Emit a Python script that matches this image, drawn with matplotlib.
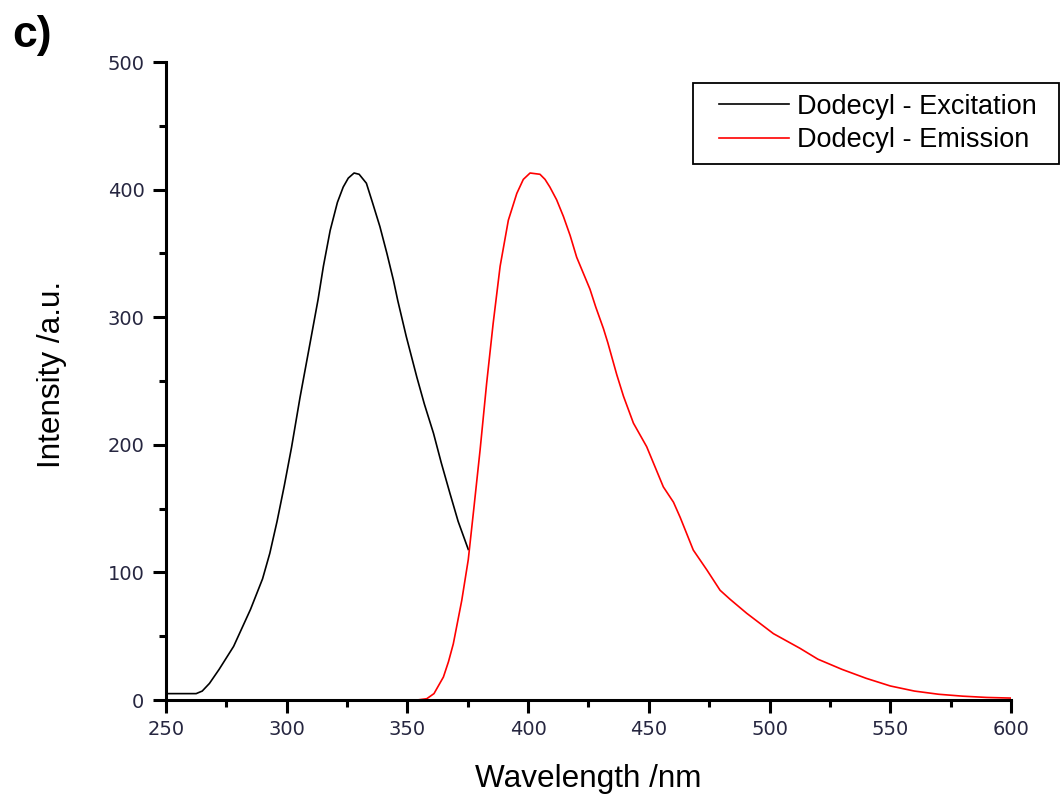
import matplotlib
matplotlib.use("Agg")
import matplotlib.pyplot as plt
from matplotlib.ticker import MultipleLocator
from matplotlib.legend_handler import HandlerLine2D

# excitation spectrum
exc_wl = [250, 262.5, 265, 268, 272, 278, 285, 290, 293, 296, 299, 302,
          305.5, 309.7, 313, 315.2, 318, 321, 323.4, 325.5, 327.9, 330, 333,
          335.5, 338.6, 341.5, 344.2, 346, 349.5, 353.9, 357, 360.8, 364,
          367.6, 371, 375.2]
exc_int = [5, 5, 7, 13, 24, 42, 71, 95, 115, 140, 168, 198,
           237, 280, 314, 340, 368, 390, 402, 409, 413, 412, 405,
           390, 371, 350, 329, 313, 285, 253, 232, 209, 186,
           162, 140, 118]

# emission spectrum
em_wl = [350, 354, 358, 361, 364.9, 367, 369, 372.5, 375.2, 377.5, 380.1,
         382.8, 385.5, 388.4, 391.8, 395.3, 398, 400.8, 404.9, 407, 409,
         411.8, 414.6, 417.4, 420.1, 425.6, 428, 431.2, 433, 436.7, 439.5,
         443.6, 449.1, 456, 460.2, 463, 468.4, 474, 479.5, 483.6, 490.5,
         501.6, 512.6, 520, 530, 540, 550, 560, 570, 580, 590, 600]
em_int = [0, 0, 1, 5, 18, 30, 44, 78, 110, 150, 196,
          248, 295, 340, 376, 397, 408, 413, 412, 408, 402,
          392, 379, 364, 347, 322, 308, 291, 280, 255, 238,
          217, 198.5, 167, 155, 143, 117.5, 102, 86, 79, 68,
          52, 40.5, 32, 24, 17, 11, 7, 4.5, 3, 2, 1.5]

x_ticks = [250, 300, 350, 400, 450, 500, 550, 600]
y_ticks = [0, 100, 200, 300, 400, 500]

fig = plt.figure(figsize=(10.6, 7.98), dpi=100)
ax = fig.add_axes([166/1060, 1 - 700/798, 845/1060, 638/798])

ax.plot(exc_wl, exc_int, color="black", lw=1.2, label="Dodecyl - Excitation")
ax.plot(em_wl, em_int, color="red", lw=1.2, label="Dodecyl - Emission")

ax.set_xlim(250, 600)
ax.set_ylim(0, 500)
ax.set_xticks(x_ticks)
ax.set_yticks(y_ticks)
ax.xaxis.set_minor_locator(MultipleLocator(25))
ax.yaxis.set_minor_locator(MultipleLocator(50))

for side in ["top", "right"]:
    ax.spines[side].set_visible(False)
for side in ["left", "bottom"]:
    ax.spines[side].set_linewidth(2.2)

ax.tick_params(which="major", direction="out", length=9.5, width=2.2,
               labelsize=14, labelcolor="#262640")
ax.tick_params(which="minor", direction="out", length=5, width=2.2)
ax.tick_params(axis="y", which="major", pad=6)
ax.tick_params(axis="x", which="major", pad=5)

lab_font = {"family": ["Liberation Sans", "DejaVu Sans"], "size": 22.7}
ax.set_xlabel("Wavelength /nm", fontdict=lab_font, va="center")
ax.set_ylabel("Intensity /a.u.", fontdict=lab_font, va="center")
ax.xaxis.set_label_coords(0.5, -0.124)
ax.yaxis.set_label_coords(-0.135, 0.51)

# legend box spans past the right end of the axis, as in the original
leg = ax.legend(loc="upper left",
                bbox_to_anchor=(693/1060, 1 - 163/798, 366/1060, 80/798),
                bbox_transform=fig.transFigure, mode="expand",
                frameon=True, fancybox=False, framealpha=1, edgecolor="black",
                handlelength=3.15, handletextpad=0.3, labelspacing=0.27,
                borderpad=0.4, borderaxespad=0,
                handler_map={plt.Line2D: HandlerLine2D(xpad=0.57)},
                prop={"family": ["Liberation Sans", "DejaVu Sans"], "size": 19.5})
leg.get_frame().set_linewidth(1.3)

fig.text(12/1060, 1 - 35/798, "c)", fontsize=32, fontweight="bold",
         family=["Liberation Sans", "DejaVu Sans"], va="center", ha="left")

fig.savefig("out.png", dpi=100)
